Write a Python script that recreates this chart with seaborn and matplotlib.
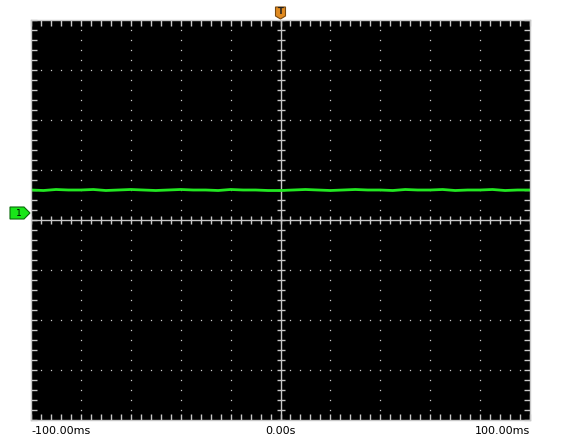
import numpy as np
import pandas as pd
import matplotlib
matplotlib.use("Agg")
import matplotlib.pyplot as plt
from matplotlib.patches import Polygon
import seaborn as sns

# timebase: 20 ms/div, 10 divisions; vertical 8 divisions
time_labels = ["-100.00ms", "0.00s", "100.00ms"]
trigger_ms = 0.0
ch1_offset_div = 0.14

# trace (ms, divisions)
trace_ms = [-100, -95, -90, -85, -80, -75, -70, -65, -60, -55, -50, -45, -40, -35,
            -30, -25, -20, -15, -10, -5, 0, 5, 10, 15, 20, 25, 30, 35, 40, 45,
            50, 55, 60, 65, 70, 75, 80, 85, 90, 95, 100]
trace_div = [0.60, 0.59, 0.61, 0.60, 0.60, 0.61, 0.59, 0.60, 0.61, 0.60, 0.59, 0.60,
             0.61, 0.60, 0.60, 0.59, 0.61, 0.60, 0.60, 0.59, 0.59, 0.60, 0.61, 0.60,
             0.59, 0.60, 0.61, 0.60, 0.60, 0.59, 0.61, 0.60, 0.60, 0.61, 0.59, 0.60,
             0.60, 0.61, 0.59, 0.60, 0.60]

df = pd.DataFrame({"t": trace_ms, "v": trace_div})

sns.set_style("dark")
plt.rcParams["font.family"] = ["DejaVu Sans"]

fig = plt.figure(figsize=(5.61, 4.41), dpi=100, facecolor="white")
ax = fig.add_axes([31 / 561, 21 / 441, 499 / 561, 400 / 441])
ax.set_facecolor("black")
ax.set_xlim(-100, 100)
ax.set_ylim(-4, 4)

grid_col = "#c8c8c8"

# dotted graticule
for gx in np.arange(-80, 81, 20):
    if gx == 0:
        continue
    ys = np.arange(-4, 4.01, 0.2)
    ax.plot(np.full_like(ys, gx), ys, ls="none", marker="s", ms=0.9, color=grid_col, mew=0)
for gy in np.arange(-3, 3.1, 1):
    if gy == 0:
        continue
    xs = np.arange(-100, 100.1, 4)
    ax.plot(xs, np.full_like(xs, gy), ls="none", marker="s", ms=0.9, color=grid_col, mew=0)

# centre crosshair with small ticks
ax.axhline(0, color=grid_col, lw=1)
ax.axvline(0, color=grid_col, lw=1)
xs = np.arange(-100, 100.1, 4)
ax.plot(xs, np.zeros_like(xs), ls="none", marker="|", ms=6, mew=1, color=grid_col)
ys = np.arange(-4, 4.01, 0.2)
ax.plot(np.zeros_like(ys), ys, ls="none", marker="_", ms=6, mew=1, color=grid_col)

# trace
sns.lineplot(data=df, x="t", y="v", ax=ax, color="#22e822", lw=2)

# edge ticks
ax.set_xticks(np.arange(-100, 100.1, 4))
ax.set_yticks(np.arange(-4, 4.01, 0.2))
ax.tick_params(axis="both", which="both", direction="in", length=4, width=1,
               color=grid_col, top=True, right=True, bottom=True, left=True,
               labelbottom=False, labelleft=False)
ax.set_xlabel("")
ax.set_ylabel("")
for s in ax.spines.values():
    s.set_color(grid_col)
    s.set_linewidth(1)
ax.grid(False)

# time labels
lab_y = -0.028
ax.text(-100, lab_y, time_labels[0], transform=ax.get_xaxis_transform(),
        ha="left", va="center", fontsize=8, color="black")
ax.text(0, lab_y, time_labels[1], transform=ax.get_xaxis_transform(),
        ha="center", va="center", fontsize=8, color="black")
ax.text(100, lab_y, time_labels[2], transform=ax.get_xaxis_transform(),
        ha="right", va="center", fontsize=8, color="black")

# trigger marker (top)
tr = ax.get_xaxis_transform()
px = 200 / 499  # ms per pixel
py = 1 / 400
trig = Polygon([[trigger_ms - 5 * px, 1 + 13 * py], [trigger_ms + 5 * px, 1 + 13 * py],
                [trigger_ms + 5 * px, 1 + 4 * py], [trigger_ms, 1 + 1 * py],
                [trigger_ms - 5 * px, 1 + 4 * py]],
               closed=True, transform=tr, clip_on=False, facecolor="#e08a20",
               edgecolor="#7a4a10", lw=0.8)
ax.add_patch(trig)
ax.text(trigger_ms, 1 + 8 * py, "T", transform=tr, ha="center", va="center",
        fontsize=6, fontweight="bold", color="#202020", clip_on=False)

# channel 1 ground marker (left)
ty = ax.get_yaxis_transform()
qx = 1 / 499
dv = 8 / 400
ch = Polygon([[-21 * qx, ch1_offset_div + 6 * dv], [-7 * qx, ch1_offset_div + 6 * dv],
              [-1 * qx, ch1_offset_div], [-7 * qx, ch1_offset_div - 6 * dv],
              [-21 * qx, ch1_offset_div - 6 * dv]],
             closed=True, transform=ty, clip_on=False, facecolor="#19e619",
             edgecolor="#0a6a0a", lw=0.8)
ax.add_patch(ch)
ax.text(-12 * qx, ch1_offset_div, "1", transform=ty, ha="center", va="center",
        fontsize=6.5, color="black", clip_on=False)

fig.savefig("out.png", dpi=100, facecolor="white")
